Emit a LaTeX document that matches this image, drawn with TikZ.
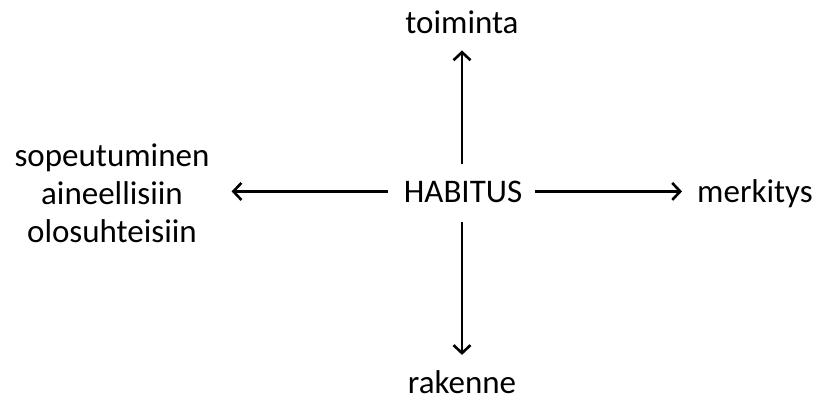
\documentclass[tikz,border=0pt]{standalone}
\usepackage{fontspec}
\setmainfont{Carlito}
\usetikzlibrary{arrows.meta}
\begin{document}
\begin{tikzpicture}[x=1pt,y=-1pt,
  lbl/.style={inner sep=0pt, font=\fontsize{33}{38}\selectfont},
  conn/.style={line width=2.6pt, -{Straight Barb[length=8pt,width=17pt]}}]
\useasboundingbox (0,0) rectangle (816,400);
\node[lbl, anchor=base] (H) at (463,202) {HABITUS};
\node[lbl, anchor=base] (T) at (462,33) {toiminta};
\node[lbl, anchor=base] (R) at (462,393) {rakenne};
\node[lbl, anchor=base west] (M) at (697,202) {merkitys};
\node[lbl, align=center, anchor=center] (S) at (112,193) {sopeutuminen\\aineellisiin\\olosuhteisiin};
\draw[conn, shorten <=16pt, shorten >=17pt] (H.north -| T.south) -- (T.south);
\draw[conn, shorten <=20pt, shorten >=15pt] (H.south -| R.north) -- (R.north);
\draw[conn, shorten <=13pt, shorten >=15pt] (H.east) -- (M.west |- H.east);
\draw[conn, shorten <=16pt, shorten >=22pt] (H.west) -- (S.east |- H.west);
\end{tikzpicture}
\end{document}
